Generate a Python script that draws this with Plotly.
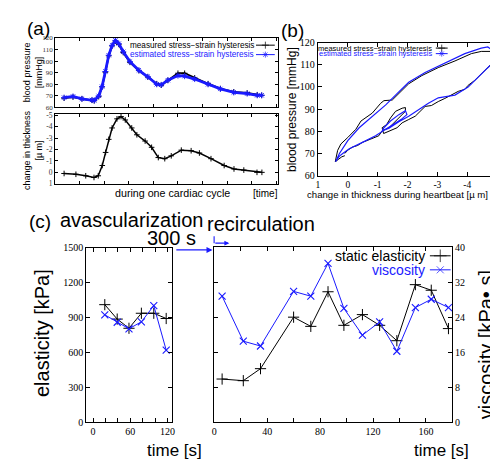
import plotly.graph_objects as go

W, H = 498, 459

# ---------------- data: panel (a) ----------------
t_press = [0.04, 0.08, 0.12, 0.165, 0.175, 0.195, 0.21, 0.225, 0.24, 0.255, 0.27, 0.285, 0.305, 0.335,
           0.375, 0.415, 0.455, 0.475, 0.505, 0.55, 0.58, 0.625, 0.685, 0.74, 0.80, 0.86, 0.905, 0.925]
p_measured = [68, 69, 67.5, 66.2, 65.8, 69.3, 77.7, 90.4, 104.5, 113, 117.2, 114.4, 107.3, 98.9,
              91.8, 86.2, 80.5, 79.2, 83.4, 89.5, 89.5, 85.5, 80.5, 76.3, 73.5, 72.5, 71, 70.5]
p_estimated = [68.5, 69.5, 67.5, 66.5, 66, 70, 78, 91, 105, 113.5, 117.8, 115, 108, 99.5,
               92, 86.5, 80, 79.5, 83.5, 87.5, 87, 84.5, 80, 76, 73, 72, 70.5, 70.5]
t_thick = [0.04, 0.093, 0.137, 0.174, 0.193, 0.211, 0.226, 0.24, 0.255, 0.277, 0.295, 0.314, 0.343, 0.366,
           0.403, 0.432, 0.462, 0.491, 0.52, 0.565, 0.609, 0.646, 0.698, 0.757, 0.801, 0.845, 0.904, 0.926]
thickness = [0.1, 0.17, 0.3, 0.45, 0.3, -0.6, -1.75, -2.9, -3.9, -4.7, -4.9, -4.6, -3.9, -3.3,
             -2.75, -2.2, -1.3, -1.2, -1.45, -1.95, -1.9, -1.7, -1.2, -0.6, -0.3, -0.2, 0.0, 0.0]

# ---------------- data: panel (b) ----------------
b_meas_x = [0.10, 0.20, 0.30, 0.42, 0.34, 0.23, 0.00, -0.27, -0.44, -0.82, -1.10, -1.21, -1.49, -1.76,
            -2.04, -2.48, -3.03, -3.59, -4.14, -4.47, -4.80, -4.91, -4.97, -4.80, -4.58, -4.25, -4.03,
            -3.92, -3.70, -3.48, -3.25, -3.03, -2.80, -2.59, -2.43, -2.26, -2.04, -1.82, -1.65, -1.38,
            -1.20, -1.15, -1.30, -1.43, -1.60, -1.82, -1.93, -1.93, -1.76, -1.60, -1.38, -1.15, -1.04,
            -0.77, -0.49, -0.33, -0.16, 0.00, 0.10]
b_meas_y = [69.0, 68.5, 67.5, 66.3, 71.4, 74.3, 77.2, 80.9, 84.6, 88.2, 92.6, 93.8, 94.1, 97.7,
            101.4, 105.1, 108.7, 111.7, 115.0, 116.0, 116.0, 114.6, 113.1, 110.2, 107.3, 102.9, 100.7,
            98.9, 98.0, 96.3, 94.8, 93.4, 91.6, 91.2, 89.0, 86.8, 85.3, 83.8, 81.6, 80.2,
            79.0, 81.6, 83.0, 86.0, 89.0, 90.4, 90.7, 89.0, 86.8, 84.6, 81.6, 80.2, 78.0,
            76.5, 75.0, 73.6, 72.9, 71.5, 70.0]
b_est_x = [0.28, 0.41, 0.28, 0.00, -0.38, -0.82, -1.27, -1.65, -2.04, -2.59, -3.25, -3.92, -4.47, -4.69,
           -4.82, -4.93, -4.97, -4.86, -4.64, -4.36, -4.03, -3.59, -3.03, -2.70, -2.37, -2.04, -1.71,
           -1.38, -1.15, -1.21, -1.43, -1.71, -1.93, -1.98, -1.82, -1.60, -1.32, -0.93, -0.49, -0.05,
           0.17, 0.28]
b_est_y = [68.8, 66.3, 70.0, 75.8, 81.6, 86.8, 91.9, 97.0, 102.1, 106.5, 110.9, 115.0, 117.5, 118.0,
           116.8, 114.6, 113.1, 110.9, 108.0, 104.3, 99.9, 96.3, 95.1, 92.6, 89.7, 86.8, 84.3,
           81.4, 80.2, 81.6, 84.6, 87.5, 89.3, 87.5, 85.7, 83.8, 81.2, 78.0, 75.0, 72.1,
           70.0, 68.8]

# ---------------- data: panel (c) ----------------
avasc_time = [19, 39, 58, 78, 98, 118]
avasc_elasticity = [1010, 886, 807, 936, 936, 891]
avasc_viscosity = [24.6, 22.9, 21.4, 23.0, 26.7, 16.5]
recirc_time = [6, 22, 35, 60, 73, 86, 98, 112, 125, 138, 152, 164, 177]
recirc_elasticity = [369, 355, 458, 900, 821, 1118, 830, 922, 830, 698, 1179, 1131, 802]
recirc_viscosity = [28.8, 18.5, 17.4, 29.9, 28.8, 36.3, 26.0, 19.9, 22.9, 16.2, 26.2, 28.1, 26.2]

a_ticks_p = [60, 70, 80, 90, 100, 110, 120]
a_ticks_d = [-5, -4, -3, -2, -1, 0, 1]
b_ticks_x = [1, 0, -1, -2, -3, -4, -5]
b_ticks_y = [60, 70, 80, 90, 100, 110, 120]
c_ticks_e = [0, 300, 600, 900, 1200, 1500]
c_ticks_v = [0, 8, 16, 24, 32, 40]

BLUE = '#1a1aff'
SANS = 'Liberation Sans'
SERIF = 'Liberation Serif'


def fx(p):
    return p / W


def fy(p):
    return 1 - p / H


fig = go.Figure()

# panel (a)
fig.add_trace(go.Scatter(x=t_press, y=p_measured, xaxis='x', yaxis='y', mode='lines+markers',
                         line=dict(color='black', width=1.8),
                         marker=dict(symbol='cross-thin', size=4, line=dict(color='black', width=1))))
fig.add_trace(go.Scatter(x=t_press, y=p_estimated, xaxis='x', yaxis='y', mode='lines+markers',
                         line=dict(color=BLUE, width=2.8),
                         marker=dict(symbol='asterisk', size=5, line=dict(color=BLUE, width=1))))
fig.add_trace(go.Scatter(x=t_thick, y=thickness, xaxis='x2', yaxis='y2', mode='lines+markers',
                         line=dict(color='black', width=1.5),
                         marker=dict(symbol='cross-thin', size=4, line=dict(color='black', width=1))))
# panel (b)
fig.add_trace(go.Scatter(x=b_meas_x, y=b_meas_y, xaxis='x3', yaxis='y3', mode='lines',
                         line=dict(color='black', width=1)))
fig.add_trace(go.Scatter(x=b_est_x, y=b_est_y, xaxis='x3', yaxis='y3', mode='lines',
                         line=dict(color=BLUE, width=1.2)))
# panel (c)
cross = dict(symbol='cross-thin', size=8, line=dict(color='black', width=1))
xm = dict(symbol='x-thin', size=7, line=dict(color=BLUE, width=1.1))
fig.add_trace(go.Scatter(x=avasc_time, y=avasc_elasticity, xaxis='x4', yaxis='y4', mode='lines+markers',
                         line=dict(color='black', width=1), marker=cross))
fig.add_trace(go.Scatter(x=avasc_time, y=avasc_viscosity, xaxis='x4', yaxis='y7', mode='lines+markers',
                         line=dict(color=BLUE, width=1), marker=xm))
fig.add_trace(go.Scatter(x=recirc_time, y=recirc_elasticity, xaxis='x5', yaxis='y5', mode='lines+markers',
                         line=dict(color='black', width=1), marker=cross))
fig.add_trace(go.Scatter(x=recirc_time, y=recirc_viscosity, xaxis='x5', yaxis='y6', mode='lines+markers',
                         line=dict(color=BLUE, width=1), marker=xm))

# legend keys (drawn on a pixel-space overlay axis)
keys = [
    (249, 268, 32.0, 'black', 'cross-thin', 5),
    (249, 268, 41.7, BLUE, 'asterisk', 5),
    (431, 443, 35.0, 'black', 'cross-thin', 5),
    (431, 443, 40.7, BLUE, 'asterisk', 5),
    (425, 446, 248.3, 'black', 'cross-thin', 9),
    (425, 446, 262.7, BLUE, 'x-thin', 7),
]
for x0, x1, yk, col, sym, sz in keys:
    fig.add_trace(go.Scatter(x=[x0, (x0 + x1) / 2, x1], y=[yk, yk, yk], xaxis='x9', yaxis='y9',
                             mode='lines+markers', line=dict(color=col, width=1),
                             marker=dict(symbol=sym, size=[0, sz, 0], line=dict(color=col, width=1)),
                             hoverinfo='skip'))

base = dict(showline=True, linecolor='black', linewidth=1.2, mirror='ticks', ticks='inside',
            ticklen=4, tickcolor='black', showgrid=False, zeroline=False,
            tickfont=dict(family=SERIF, size=10, color='black'))


def ax(**kw):
    d = dict(base)
    d.update(kw)
    return d


a_x_ticks = [0.11 * k for k in range(1, 10)]
layout = dict(
    width=W, height=H, margin=dict(l=0, r=0, t=0, b=0),
    paper_bgcolor='white', plot_bgcolor='rgba(0,0,0,0)', showlegend=False,
    xaxis=ax(domain=[fx(45.7), fx(271.7)], range=[0, 1], anchor='y', tickvals=a_x_ticks,
             showticklabels=False, ticklen=3),
    yaxis=ax(domain=[fy(96), fy(24.5)], range=[60, 120], anchor='x', tickvals=a_ticks_p,
             ticktext=[str(v) for v in a_ticks_p], tickfont=dict(family=SERIF, size=7, color='#333'),
             ticklen=3),
    xaxis2=ax(domain=[fx(45.7), fx(271.7)], range=[0, 1], anchor='y2', tickvals=a_x_ticks,
              showticklabels=False, ticklen=3),
    yaxis2=ax(domain=[fy(174.3), fy(102.5)], range=[1, -5.14], anchor='x2', tickvals=a_ticks_d,
              ticktext=[str(v) for v in a_ticks_d],
              tickfont=dict(family=SERIF, size=7.5, color='#333'), ticklen=3),
    xaxis3=ax(domain=[fx(311.7), fx(493)], range=[1, -5], anchor='y3', tickvals=b_ticks_x,
              ticktext=[str(v) for v in b_ticks_x], tickfont=dict(family=SERIF, size=9.5, color='black')),
    yaxis3=ax(domain=[fy(166), fy(29.3)], range=[60, 120], anchor='x3', tickvals=b_ticks_y,
              ticktext=[str(v) for v in b_ticks_y]),
    xaxis4=ax(domain=[fx(77.3), fx(164)], range=[-10.7, 127.4], anchor='y4',
              tickvals=[0, 20, 40, 60, 80, 100, 120], ticktext=['0', '', '', '60', '', '', '120']),
    yaxis4=ax(domain=[fy(419), fy(240)], range=[0, 1500], anchor='x4', tickvals=c_ticks_e,
              ticktext=[str(v) for v in c_ticks_e]),
    yaxis7=dict(overlaying='y4', range=[0, 40], visible=False, anchor='x4'),
    xaxis5=ax(domain=[fx(206), fx(447.3)], range=[-0.5, 179.6], anchor='y5',
              tickvals=[0, 20, 40, 60, 80, 100, 120, 140, 160],
              ticktext=['0', '', '40', '', '80', '', '120', '', '160']),
    yaxis5=ax(domain=[fy(419), fy(239.5)], range=[0, 1500], anchor='x5', tickvals=c_ticks_e,
              showticklabels=False, mirror=True),
    yaxis6=ax(overlaying='y5', side='right', anchor='x5', range=[0, 40], tickvals=c_ticks_v,
              ticktext=[str(v) for v in c_ticks_v], mirror=False),
    xaxis9=dict(domain=[0, 1], range=[0, W], visible=False, anchor='y9', fixedrange=True),
    yaxis9=dict(domain=[0, 1], range=[H, 0], visible=False, anchor='x9', fixedrange=True),
)

anns = []


def txt(x, y, s, size, color='black', angle=0, xanchor='center', family=SANS):
    anns.append(dict(x=fx(x), y=fy(y), xref='paper', yref='paper', text=s, showarrow=False,
                     textangle=angle, xanchor=xanchor, yanchor='middle', borderpad=0,
                     font=dict(family=family, size=size, color=color)))


txt(28.5, 15, '(a)', 19)
txt(285.5, 17, '(b)', 19)
txt(30.5, 213, '(c)', 19)
# (a)
txt(248, 32, 'measured stress\u2212strain hysteresis', 8.2, 'black', xanchor='right')
txt(248, 41.7, 'estimated stress\u2212strain hysteresis', 8.2, BLUE, xanchor='right')
txt(24, 60, 'blood pressure<br>[mmHg]', 9, angle=-90)
txt(24, 140, 'change in thickness<br>[\u00b5 m]', 9, angle=-90)
txt(164.5, 184.3, 'during one cardiac cycle', 10.7)
txt(272, 184, '[time]', 10, xanchor='right')
# (b)
txt(428.5, 35, 'measured stress\u2212strain hysteresis', 7.5, 'black', xanchor='right')
txt(428.5, 40.7, 'estimated stress\u2212strain hysteresis', 7.5, BLUE, xanchor='right')
txt(286, 98, 'blood pressure [mmHg]', 12, angle=-90)
txt(392, 185, 'change in thickness during heartbeat [\u00b5 m]', 9.6)
# (c)
txt(122.5, 211.7, 'avascularization', 20)
txt(163, 230, '300 s', 20)
txt(254, 216, 'recirculation', 20)
txt(421, 248.3, 'static elasticity', 14, xanchor='right')
txt(421, 262.7, 'viscosity', 14, BLUE, xanchor='right')
txt(33, 328, 'elasticity [kPa]', 20, angle=-90)
txt(482, 340, 'viscosity [kPa\u2022 s]', 20, angle=-90)
txt(166.5, 448, 'time [s]', 17)
txt(436.5, 448, 'time [s]', 17)

# arrows
anns.append(dict(x=fx(205), y=fy(242.3), xref='paper', yref='paper', ax=-37.7, ay=0, text='',
                 showarrow=True, arrowhead=2, arrowsize=1, arrowwidth=1.2, arrowcolor=BLUE))
anns.append(dict(x=fx(222), y=fy(235.3), xref='paper', yref='paper', ax=-15.5, ay=0, text='',
                 showarrow=True, arrowhead=2, arrowsize=0.9, arrowwidth=1.1, arrowcolor=BLUE))
layout['annotations'] = anns
layout['shapes'] = [dict(type='line', xref='paper', yref='paper', x0=fx(206.6), x1=fx(206.6),
                         y0=fy(228.3), y1=fy(235.3), line=dict(color=BLUE, width=1.1))]

fig.update_layout(**layout)
fig.write_html('out.html')
